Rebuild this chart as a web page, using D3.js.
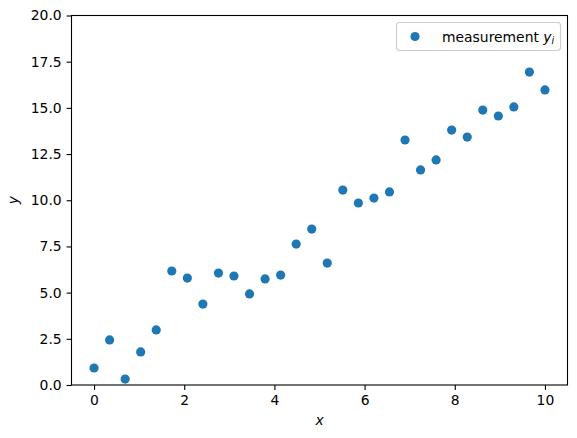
<!DOCTYPE html>
<meta charset="utf-8">
<title>measurement scatter</title>
<style>
body { margin: 0; background: white; }
svg { display: block; font-family: "DejaVu Sans", sans-serif; }
</style>
<svg width="577" height="438"></svg>
<script src="https://cdn.jsdelivr.net/npm/d3@7"></script>
<script>
  // x = linspace(0, 10, 30)
  var xs = [0, 0.345, 0.690, 1.034, 1.379, 1.724, 2.069, 2.414, 2.759, 3.103,
            3.448, 3.793, 4.138, 4.483, 4.828, 5.172, 5.517, 5.862, 6.207, 6.552,
            6.897, 7.241, 7.586, 7.931, 8.276, 8.621, 8.966, 9.310, 9.655, 10]
  var ys = [0.92, 2.44, 0.32, 1.79, 2.98, 6.17, 5.79, 4.38, 6.06, 5.90,
            4.93, 5.74, 5.95, 7.63, 8.44, 6.60, 10.55, 9.85, 10.12, 10.45,
            13.26, 11.64, 12.18, 13.80, 13.42, 14.88, 14.56, 15.05, 16.94, 15.97]
  var xTicks = [0, 2, 4, 6, 8, 10]
  var yTicks = [0, 2.5, 5, 7.5, 10, 12.5, 15, 17.5, 20]

  var svg = d3.select("svg"),
    plotLeft = 71.5, plotRight = 567.5, plotTop = 15.5, plotBottom = 385,
    fontSize = 13.9,
    color = "#1f77b4"

  var x = d3.scaleLinear().domain([-0.5, 10.5]).range([plotLeft, plotRight])
  var y = d3.scaleLinear().domain([0, 20]).range([plotBottom, plotTop])

  var xAxis = svg.append("g")
    .attr("transform", "translate(0," + plotBottom + ")")
    .call(d3.axisBottom(x).tickValues(xTicks).tickSize(4.9).tickPadding(4.9).tickFormat(d3.format("d")))
  var yAxis = svg.append("g")
    .attr("transform", "translate(" + plotLeft + ",0)")
    .call(d3.axisLeft(y).tickValues(yTicks).tickSize(4.9).tickPadding(4.9).tickFormat(d3.format(".1f")))

  ;[xAxis, yAxis].forEach(function(ax) {
    ax.select(".domain").remove()
    ax.selectAll("line").attr("stroke", "black").attr("stroke-width", 1.1)
    ax.selectAll("text").attr("font-size", fontSize).attr("font-family", "DejaVu Sans").attr("fill", "black")
  })

  // points
  svg.append("g").selectAll("circle")
    .data(xs.map(function(v, i) { return [v, ys[i]] }))
    .enter().append("circle")
      .attr("cx", function(d) { return x(d[0]) })
      .attr("cy", function(d) { return y(d[1]) })
      .attr("r", 4.6)
      .attr("fill", color)

  // frame
  svg.append("rect")
    .attr("x", plotLeft).attr("y", plotTop)
    .attr("width", plotRight - plotLeft).attr("height", plotBottom - plotTop)
    .attr("fill", "none").attr("stroke", "black").attr("stroke-width", 1.1)

  // axis labels
  svg.append("text")
    .attr("x", (plotLeft + plotRight) / 2).attr("y", 425)
    .attr("text-anchor", "middle").attr("font-size", fontSize).attr("font-style", "italic")
    .text("x")
  svg.append("text")
    .attr("transform", "translate(17.5," + ((plotTop + plotBottom) / 2) + ") rotate(-90)")
    .attr("text-anchor", "middle").attr("font-size", fontSize).attr("font-style", "italic")
    .text("y")

  // legend
  var lg = svg.append("g")
  lg.append("rect")
    .attr("x", 396.5).attr("y", 22.5).attr("width", 164).attr("height", 28)
    .attr("rx", 3).attr("fill", "white").attr("fill-opacity", 0.8)
    .attr("stroke", "#cccccc").attr("stroke-width", 1.1)
  lg.append("circle")
    .attr("cx", 415).attr("cy", 36.5).attr("r", 4.6).attr("fill", color)
  var lt = lg.append("text")
    .attr("x", 442).attr("y", 41.5).attr("font-size", fontSize)
  lt.append("tspan").text("measurement ")
  lt.append("tspan").attr("font-style", "italic").text("y")
  lt.append("tspan").attr("font-style", "italic").attr("font-size", fontSize * 0.7).attr("dy", 2.5).text("i")
</script>
